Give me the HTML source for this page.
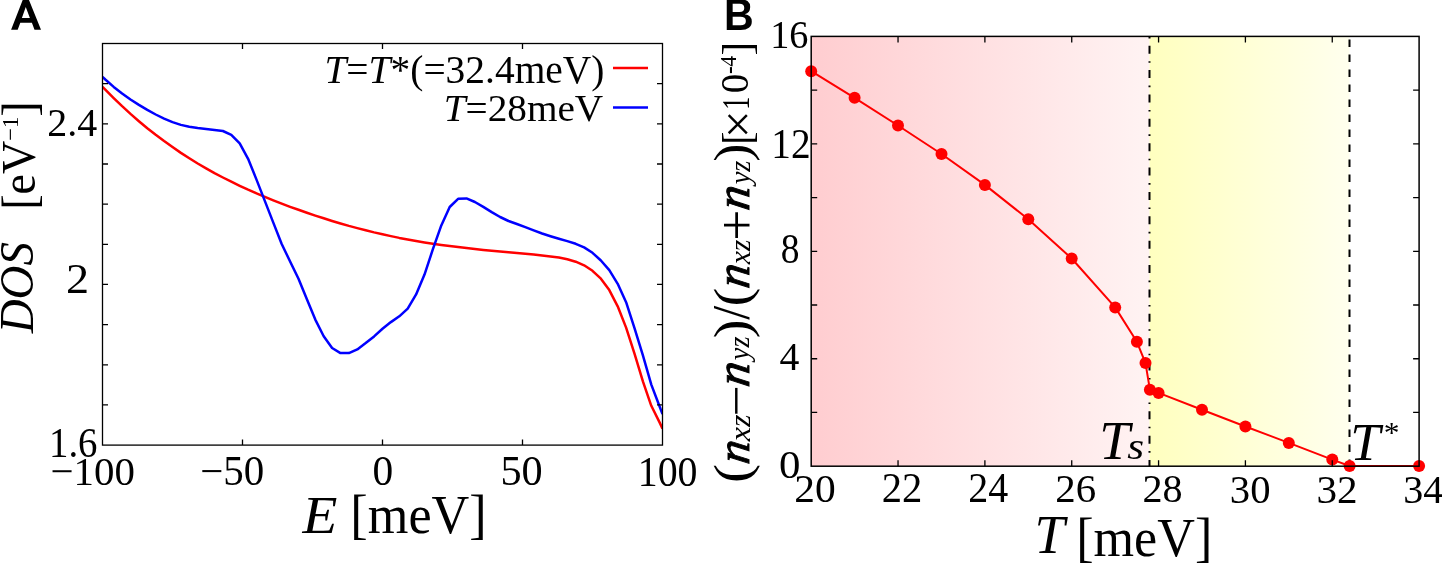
<!DOCTYPE html><html><head><meta charset="utf-8"><style>html,body{margin:0;padding:0;background:#fff;overflow:hidden}svg{display:block;will-change:transform}text{font-family:"Liberation Serif",serif}.i{font-style:italic}.sans{font-family:"Liberation Sans",sans-serif;font-weight:bold}</style></head><body><svg width="1442" height="563" viewBox="0 0 1442 563" ><defs><linearGradient id="gp" x1="0" x2="1" y1="0" y2="0"><stop offset="0" stop-color="#ffcdd0"/><stop offset="1" stop-color="#fff3f3"/></linearGradient><linearGradient id="gy" x1="0" x2="1" y1="0" y2="0"><stop offset="0" stop-color="#ffffbf"/><stop offset="1" stop-color="#ffffee"/></linearGradient><clipPath id="ca"><rect x="102" y="43" width="561" height="402"/></clipPath></defs><path id="tA" fill="#000" fill-rule="evenodd" d="M11.1,29.7L23.15,-1.2L28.5,-1.2L41,29.7L34.5,29.7L31.9,22.75L20.3,22.75L17.7,29.7ZM21.9,18.1L29.9,18.1L25.75,7.1Z"/><g clip-path="url(#ca)" fill="none" stroke-width="2.5" stroke-linejoin="round"><polyline points="102.5,86.8 105.3,89.7 113.7,98.1 122.1,106.2 130.5,113.9 138.9,121.2 147.3,128.2 155.7,134.8 164.1,141.1 172.5,147.1 180.9,152.9 189.3,158.3 197.7,163.5 206.1,168.4 214.5,173.1 222.9,177.5 231.3,181.7 239.7,185.8 248.1,189.7 256.5,193.3 264.9,196.9 273.3,200.3 281.7,203.6 290.1,206.8 298.5,209.8 306.9,212.8 315.3,215.6 323.7,218.3 332.1,221.0 340.5,223.5 348.9,225.9 357.3,228.1 365.7,230.3 374.1,232.4 382.5,234.3 390.9,236.1 399.3,237.9 407.7,239.5 416.1,241.0 424.5,242.4 432.9,243.7 441.3,244.9 449.7,246.0 458.1,247.1 466.5,248.1 474.9,249.0 483.3,249.9 491.7,250.7 500.1,251.5 508.5,252.3 516.9,253.0 525.3,253.7 533.7,254.5 542.1,255.4 550.5,256.4 558.9,257.6 567.3,259.3 575.7,261.7 584.1,265.3 592.5,270.8 600.9,278.7 609.3,290.1 617.7,306.3 626.1,327.6 634.5,353.6 642.9,381.4 651.3,405.8 659.7,422.6 662.5,428.6" stroke="#ff0000"/><polyline points="102.5,76.8 105.3,79.5 113.7,86.9 122.1,93.5 130.5,99.5 138.9,104.9 147.3,109.9 155.7,114.5 164.1,118.6 172.5,122.1 180.9,124.9 189.3,126.8 197.7,128.0 206.1,128.9 214.5,129.9 222.9,131.0 231.3,134.8 239.7,143.4 248.1,158.8 256.5,179.6 264.9,201.1 273.3,222.6 281.7,244.0 290.1,261.5 298.5,278.8 306.9,299.3 315.3,319.6 323.7,336.3 332.1,348.0 340.5,353.1 348.9,353.1 357.3,349.4 365.7,343.1 374.1,336.4 382.5,328.8 390.9,322.1 399.3,316.3 407.7,308.6 416.1,294.4 424.5,274.6 432.9,249.2 441.3,225.4 449.7,207.0 458.1,198.8 466.5,198.4 474.9,202.0 483.3,206.9 491.7,212.1 500.1,217.0 508.5,221.0 516.9,224.0 525.3,227.1 533.7,230.4 542.1,233.5 550.5,236.2 558.9,238.7 567.3,241.1 575.7,243.8 584.1,247.4 592.5,252.8 600.9,260.5 609.3,270.1 617.7,283.8 626.1,302.2 634.5,328.1 642.9,355.4 651.3,384.6 659.7,406.8 662.5,414.1" stroke="#0000ff"/></g><path d="M102.5,404.94h5.5M662.5,404.94h-5.5M102.5,364.78h5.5M662.5,364.78h-5.5M102.5,324.62h5.5M662.5,324.62h-5.5M102.5,284.46h5.5M662.5,284.46h-5.5M102.5,244.30h5.5M662.5,244.30h-5.5M102.5,204.14h5.5M662.5,204.14h-5.5M102.5,163.98h5.5M662.5,163.98h-5.5M102.5,123.82h5.5M662.5,123.82h-5.5M102.5,83.66h5.5M662.5,83.66h-5.5M242.50,445.1v-5.5M242.50,43.5v5.5M382.50,445.1v-5.5M382.50,43.5v5.5M522.50,445.1v-5.5M522.50,43.5v5.5" stroke="#000" stroke-width="1.3" fill="none"/><rect x="102.5" y="43.5" width="560.0" height="401.6" fill="none" stroke="#000" stroke-width="1.3"/><g id="a24" transform="matrix(0.97436,0,0,1.00000,2.618,-0.600)"><text x="97" y="136.4" font-size="41" text-anchor="end">2.4</text></g><g id="a2" transform="matrix(1.12727,0,0,1.02222,-8.936,-6.611)"><text x="87" y="292.9" font-size="41" text-anchor="end">2</text></g><g id="a16" transform="matrix(0.94624,0,0,1.00727,5.698,-3.531)"><text x="97" y="457.6" font-size="41" text-anchor="end">1.6</text></g><g id="am100" transform="matrix(0.99753,0,0,0.99636,-0.020,2.015)"><text x="93" y="485" font-size="41" text-anchor="middle">−100</text></g><g id="am50" transform="matrix(0.99835,0,0,1.01818,0.135,-8.873)"><text x="232.5" y="485" font-size="41" text-anchor="middle">−50</text></g><g id="a0" transform="matrix(1.01143,0,0,1.01455,-4.427,-7.308)"><text x="383" y="485" font-size="41" text-anchor="middle">0</text></g><g id="a50" transform="matrix(1.03243,0,0,1.02545,-16.830,-12.602)"><text x="521.5" y="485" font-size="41" text-anchor="middle">50</text></g><g id="a100" transform="matrix(0.97244,0,0,1.02545,18.349,-11.802)"><text x="667.7" y="485" font-size="41" text-anchor="middle">100</text></g><g id="aE" transform="matrix(1.05846,0,0,0.99291,-17.026,3.877)"><text x="302" y="532.5" font-size="54" class="i">E</text></g><g id="aMeV" transform="matrix(0.96842,0,0,1.03687,7.505,-18.951)"><text x="354" y="532.5" font-size="54">[meV]</text></g><g id="aDOS" transform="matrix(1.01270,0,0,0.99780,-0.732,2.180)"><text font-size="47" transform="translate(33.6,331.8) rotate(-90)" class="i">DOS</text></g><g id="aEV" transform="matrix(1.02452,0,0,0.98068,1.075,7.813)"><text font-size="47" transform="translate(33.6,206) rotate(-90)">[eV<tspan font-size="23" dy="-17">−1</tspan><tspan dy="17">]</tspan></text></g><g id="leg1" transform="matrix(0.99855,0,0,1.00000,2.321,-0.550)"><text x="603" y="83.4" font-size="39.5" text-anchor="end"><tspan class="i">T</tspan>=<tspan class="i">T</tspan>*(=32.4meV)</text></g><g id="leg2" transform="matrix(0.99396,0,0,0.98318,3.840,1.607)"><text x="603" y="121.8" font-size="39.5" text-anchor="end"><tspan class="i">T</tspan>=28meV</text></g><path d="M613,67.9H648" stroke="#ff0000" stroke-width="2.5"/><path d="M613,107.4H648" stroke="#0000ff" stroke-width="2.5"/><g id="tB" transform="matrix(0.97864,0,0,1.03736,13.516,-1.271)"><text class="sans" x="726" y="29.9" font-size="42">B</text></g><rect x="811.2" y="36.4" width="338.29999999999995" height="429.8" fill="url(#gp)"/><rect x="1149.5" y="36.4" width="200.0" height="429.8" fill="url(#gy)"/><path d="M1149.5,36.4V466.2" stroke="#000" stroke-width="2" stroke-dasharray="1.6 7.3 8 7.47" stroke-dashoffset="23.94"/><path d="M1349.5,36.4V466.2" stroke="#000" stroke-width="2" stroke-dasharray="7.5 7.5" stroke-dashoffset="-3.2"/><polyline points="811.2,71.2 854.6,97.8 898.0,125.5 941.5,154.0 984.9,184.9 1028.3,219.3 1071.7,258.5 1115.2,307.4 1136.9,341.8 1145.5,363.1 1149.9,389.7 1158.6,392.9 1202.0,409.8 1245.4,426.5 1288.8,442.9 1332.3,459.6 1349.6,466.0 1419.1,466.0" fill="none" stroke="#ff0000" stroke-width="2" stroke-linejoin="round"/><g fill="#ff0000"><circle cx="811.2" cy="71.2" r="6"/><circle cx="854.6" cy="97.8" r="6"/><circle cx="898.0" cy="125.5" r="6"/><circle cx="941.5" cy="154.0" r="6"/><circle cx="984.9" cy="184.9" r="6"/><circle cx="1028.3" cy="219.3" r="6"/><circle cx="1071.7" cy="258.5" r="6"/><circle cx="1115.2" cy="307.4" r="6"/><circle cx="1136.9" cy="341.8" r="6"/><circle cx="1145.5" cy="363.1" r="6"/><circle cx="1149.9" cy="389.7" r="6"/><circle cx="1158.6" cy="392.9" r="6"/><circle cx="1202.0" cy="409.8" r="6"/><circle cx="1245.4" cy="426.5" r="6"/><circle cx="1288.8" cy="442.9" r="6"/><circle cx="1332.3" cy="459.6" r="6"/><circle cx="1349.6" cy="466.0" r="6"/><circle cx="1419.1" cy="466.0" r="6"/></g><path d="M811.2,412.47h6M1419.1,412.47h-6M811.2,358.75h6M1419.1,358.75h-6M811.2,305.02h6M1419.1,305.02h-6M811.2,251.30h6M1419.1,251.30h-6M811.2,197.57h6M1419.1,197.57h-6M811.2,143.85h6M1419.1,143.85h-6M811.2,90.12h6M1419.1,90.12h-6M898.04,466.2v-6M898.04,36.4v6M984.89,466.2v-6M984.89,36.4v6M1071.73,466.2v-6M1071.73,36.4v6M1158.57,466.2v-6M1158.57,36.4v6M1245.41,466.2v-6M1245.41,36.4v6M1332.26,466.2v-6M1332.26,36.4v6" stroke="#000" stroke-width="1.3" fill="none"/><rect x="811.2" y="36.4" width="607.8999999999999" height="429.8" fill="none" stroke="#000" stroke-width="1.5"/><g id="b16" transform="matrix(0.93241,0,0,0.99817,55.075,-0.261)"><text x="808" y="47.9" font-size="41" text-anchor="end">16</text></g><g id="b12" transform="matrix(0.95887,0,0,1.01852,35.794,-2.971)"><text x="808" y="157.7" font-size="41" text-anchor="end">12</text></g><g id="b8" transform="matrix(0.91429,0,0,1.01091,69.771,-2.822)"><text x="798" y="263" font-size="41" text-anchor="end">8</text></g><g id="b4" transform="matrix(0.96842,0,0,0.99630,26.526,1.370)"><text x="798" y="370" font-size="41" text-anchor="end">4</text></g><g id="b0" transform="matrix(1.04571,0,0,0.98545,-34.957,6.753)"><text x="799" y="477.8" font-size="41" text-anchor="end">0</text></g><g id="bx20" transform="matrix(1.01192,0,0,0.98545,-9.742,6.963)"><text x="815" y="502.4" font-size="41" text-anchor="middle">20</text></g><g id="bx22" transform="matrix(0.98919,0,0,1.00370,9.699,-1.961)"><text x="902" y="502.4" font-size="41" text-anchor="middle">22</text></g><g id="bx24" transform="matrix(0.97403,0,0,1.00370,24.951,-1.961)"><text x="989" y="502.4" font-size="41" text-anchor="middle">24</text></g><g id="bx26" transform="matrix(0.99737,0,0,0.99450,2.632,2.417)"><text x="1076" y="502.4" font-size="41" text-anchor="middle">26</text></g><g id="bx28" transform="matrix(0.97748,0,0,0.98545,26.592,6.963)"><text x="1162" y="502.4" font-size="41" text-anchor="middle">28</text></g><g id="bx30" transform="matrix(0.99200,0,0,0.99273,10.152,4.106)"><text x="1250" y="502.4" font-size="41" text-anchor="middle">30</text></g><g id="bx32" transform="matrix(1.00408,0,0,1.00183,-5.482,-0.472)"><text x="1337" y="502.4" font-size="41" text-anchor="middle">32</text></g><g id="bx34" transform="matrix(0.97778,0,0,1.00183,32.889,-0.472)"><text x="1422" y="502.4" font-size="41" text-anchor="middle">34</text></g><g id="bT" transform="matrix(1.00504,0,0,1.00142,-8.751,-0.634)"><text x="1038" y="552.7" font-size="54" class="i">T</text></g><g id="bMeV" transform="matrix(0.96617,0,0,1.03687,32.677,-17.048)"><text x="1080" y="552.7" font-size="54">[meV]</text></g><g id="bTsT" transform="matrix(1.01849,0,0,1.01844,-22.119,-8.518)"><text x="1101" y="459.2" font-size="54" class="i">T</text></g><g id="bTss" transform="matrix(1.08364,0,0,0.96316,-94.000,16.629)"><text x="1127" y="459.2" font-size="40" class="i">s</text></g><g id="bTsrT" transform="matrix(1.03509,0,0,1.00588,-50.096,-2.806)"><text x="1353" y="459.9" font-size="52" class="i">T</text></g><g id="bTsra" transform="matrix(1.05000,0,0,0.99535,-70.425,-1.716)"><text x="1385" y="446" font-size="30">*</text></g><g id="bY1" transform="matrix(0.97872,0,0,1.10189,15.391,-46.302)"><text transform="translate(750,480.4) rotate(-90)" font-size="52">(</text></g><g id="bY2" transform="matrix(0.87843,0,0,0.88627,90.237,53.755)"><text transform="translate(750,464.1) rotate(-90) skewX(-8)" font-size="52" class="i" stroke="#000" stroke-width="1.1">n</text></g><g id="bY3" transform="matrix(0.96000,0,0,1.06667,29.500,-29.700)"><text transform="translate(750,441.5) rotate(-90)" font-size="30" class="i">xz</text></g><g id="bY4" transform="matrix(0.96000,0,0,1.06804,33.160,-25.499)"><text transform="translate(750,414.0) rotate(-90)" font-size="52">−</text></g><g id="bY5" transform="matrix(0.90980,0,0,0.92941,66.892,28.444)"><text transform="translate(750,386.5) rotate(-90) skewX(-8)" font-size="52" class="i" stroke="#000" stroke-width="1.1">n</text></g><g id="bY6" transform="matrix(0.98272,0,0,0.94444,12.375,17.778)"><text transform="translate(750,362.5) rotate(-90)" font-size="30" class="i">yz</text></g><g id="bY7" transform="matrix(0.97872,0,0,1.08679,15.391,-27.404)"><text transform="translate(750,336.4) rotate(-90)" font-size="52">)</text></g><g id="bY8" transform="matrix(1.03597,0,0,0.96140,-27.596,12.391)"><text transform="translate(750,319.8) rotate(-90)" font-size="52">/</text></g><g id="bY9" transform="matrix(0.97872,0,0,1.07925,15.391,-21.492)"><text transform="translate(750,303.9) rotate(-90)" font-size="52">(</text></g><g id="bY10" transform="matrix(0.90980,0,0,0.90980,66.892,27.114)"><text transform="translate(750,288.0) rotate(-90) skewX(-8)" font-size="52" class="i" stroke="#000" stroke-width="1.1">n</text></g><g id="bY11" transform="matrix(0.98182,0,0,0.99200,13.336,1.672)"><text transform="translate(750,264.8) rotate(-90)" font-size="30" class="i">xz</text></g><g id="bY12" transform="matrix(1.06804,0,0,1.06804,-46.324,-13.357)"><text transform="translate(750,237.9) rotate(-90)" font-size="52">+</text></g><g id="bY13" transform="matrix(0.90980,0,0,0.91765,66.892,18.441)"><text transform="translate(750,210.0) rotate(-90) skewX(-8)" font-size="52" class="i" stroke="#000" stroke-width="1.1">n</text></g><g id="bY14" transform="matrix(0.96790,0,0,0.95185,23.583,6.700)"><text transform="translate(750,186.6) rotate(-90)" font-size="30" class="i">yz</text></g><g id="bY15" transform="matrix(0.97872,0,0,1.05660,15.391,-7.208)"><text transform="translate(750,160.0) rotate(-90)" font-size="52">)</text></g><g id="bY16" transform="matrix(1.06047,0,0,1.02353,-44.816,-0.315)"><text transform="translate(750,141.7) rotate(-90)" font-size="39">[</text></g><g id="bY17" transform="matrix(0.94762,0,0,0.94286,43.182,11.529)"><text transform="translate(750,134.1) rotate(-90)" font-size="52">×</text></g><g id="bY18" transform="matrix(1.03689,0,0,0.67636,-28.870,37.089)"><text transform="translate(750,107.6) rotate(-90)" font-size="39">1</text></g><g id="bY19" transform="matrix(1.00000,0,0,1.00000,-1.900,1.550)"><text transform="translate(750,91.8) rotate(-90)" font-size="39">0</text></g><g id="bY20" transform="matrix(1.25714,0,0,1.06087,-206.014,-3.548)"><text transform="translate(750,73.1) rotate(-90)" font-size="22">-</text></g><g id="bY21" transform="matrix(1.08966,0,0,0.99512,-81.341,0.771)"><text transform="translate(750,66.2) rotate(-90)" font-size="22">4</text></g><g id="bY22" transform="matrix(1.06047,0,0,1.04000,-44.816,-0.760)"><text transform="translate(750,54.1) rotate(-90)" font-size="39">]</text></g></svg></body></html>
